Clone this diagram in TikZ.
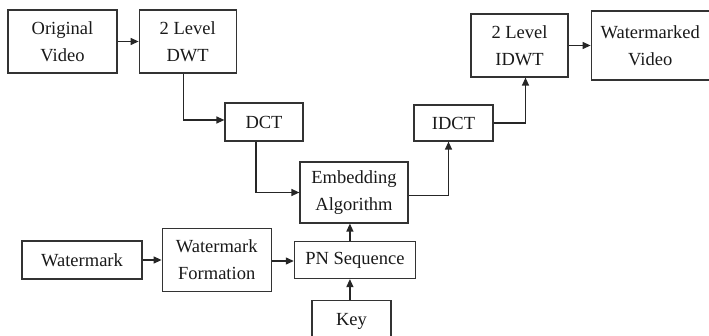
\documentclass[tikz,border=0pt]{standalone}
\usepackage{fontspec}
\setmainfont{Liberation Serif}
\usetikzlibrary{arrows.meta,positioning}

\begin{document}
\begin{tikzpicture}[
  x=1pt, y=-1pt,
  >={Triangle[length=8pt,width=7pt]}, line width=1.2pt,
  blk/.style={draw=black!80,align=center,inner sep=2pt,
    font=\fontsize{18.5}{27}\selectfont,text=black!90},
  conn/.style={->,black!85}]
  \useasboundingbox (0,0) rectangle (709,336);
  % top row
  \node[blk,minimum width=109pt,minimum height=63pt] (orig) at (62.5,41.5) {Original\\Video};
  \node[blk,minimum width=97pt,minimum height=63pt,right=21pt of orig] (dwt) {2 Level\\DWT};
  \node[blk,minimum width=78pt,minimum height=38pt] (dct) at (264,122) {DCT};
  \node[blk,minimum width=108pt,minimum height=61pt] (emb) at (354,192.5) {Embedding\\Algorithm};
  \node[blk,minimum width=79pt,minimum height=36pt] (idct) at (453.5,123) {IDCT};
  \node[blk,minimum width=97pt,minimum height=63pt] (idwt) at (519.5,45.5) {2 Level\\IDWT};
  \node[blk,minimum width=118pt,minimum height=69pt,right=22pt of idwt] (wmv) {Watermarked\\Video};
  % bottom row
  \node[blk,minimum width=120pt,minimum height=38pt] (wm) at (82,260) {Watermark};
  \node[blk,minimum width=109pt,minimum height=63pt,right=19pt of wm] (wmf) {Watermark\\Formation};
  \node[blk,minimum width=121pt,minimum height=37pt,right=22pt of wmf] (pn) {PN Sequence};
  \node[blk,minimum width=79pt,minimum height=50pt,anchor=north,
    text height=12pt,text depth=12pt] (key) at (351.5,300) {Key};
  % connectors
  \draw[conn] (orig.east) -- (orig.east -| dwt.west);
  \draw[conn] ([xshift=-4pt]dwt.south) |- ([yshift=2pt]dct.west);
  \draw[conn] ([xshift=-8pt]dct.south) |- (emb.west);
  \draw[conn] ([yshift=-3pt]emb.east) -| ([xshift=-5pt]idct.south);
  \draw[conn] (idct.east) -| ([xshift=6pt]idwt.south);
  \draw[conn] (idwt.east) -- (idwt.east -| wmv.west);
  \draw[conn] (wm.east) -- (wm.east -| wmf.west);
  \draw[conn] ([yshift=-1pt]wmf.east) -- ([yshift=-1pt]wmf.east -| pn.west);
  \draw[conn] ([xshift=-5pt]pn.north) -- ([xshift=-5pt]pn.north |- emb.south);
  \draw[conn] ([xshift=-5pt]pn.south |- key.north) -- ([xshift=-5pt]pn.south);
\end{tikzpicture}
\end{document}
